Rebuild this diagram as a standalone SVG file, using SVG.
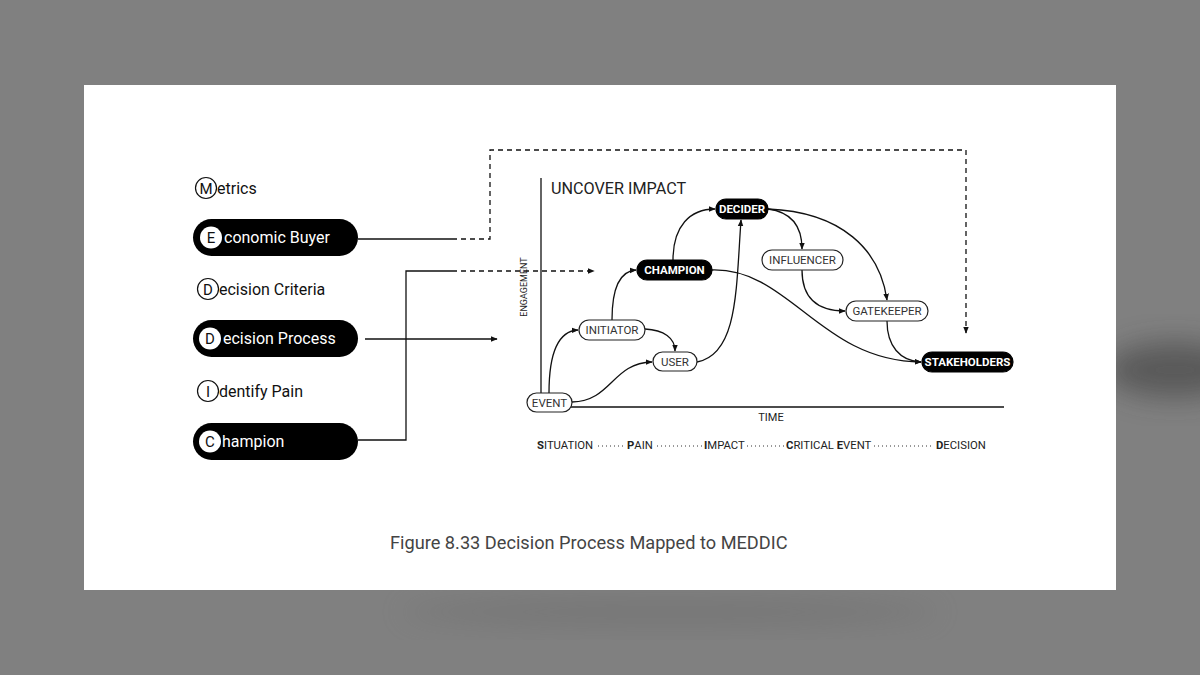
<svg xmlns="http://www.w3.org/2000/svg" width="1200" height="675" viewBox="0 0 1200 675">
<defs>
<marker id="ah" viewBox="0 0 10 10" refX="9" refY="5" markerWidth="7" markerHeight="7" markerUnits="userSpaceOnUse" orient="auto">
<path d="M0,1 L10,5 L0,9 Z" fill="#111"/>
</marker>
<filter id="blur" x="-50%" y="-50%" width="200%" height="200%"><feGaussianBlur stdDeviation="14"/></filter>
<style>
.lbl{font-family:Roboto,"Liberation Sans",sans-serif;font-size:16px;fill:#111}
.wl{font-family:Roboto,"Liberation Sans",sans-serif;font-size:16px;fill:#fff}
.cl{font-family:Roboto,"Liberation Sans",sans-serif;font-size:15px;fill:#111;text-anchor:middle}
.pill{fill:#000}
.ring{fill:#fff;stroke:#111;stroke-width:1.2}
.node{fill:#fff;stroke:#222;stroke-width:1.2}
.bnode{fill:#000;stroke:#000;stroke-width:1.2}
.nt{font-family:Roboto,"Liberation Sans",sans-serif;font-size:11.5px;fill:#333;text-anchor:middle}
.bt{font-family:Roboto,"Liberation Sans",sans-serif;font-size:11.5px;font-weight:bold;fill:#fff;text-anchor:middle}
.edge{fill:none;stroke:#111;stroke-width:1.3}
.dash{fill:none;stroke:#111;stroke-width:1.3;stroke-dasharray:5 4}
.dots{fill:none;stroke:#333;stroke-width:1;stroke-dasharray:1 3}
.tl{font-family:Roboto,"Liberation Sans",sans-serif;font-size:11.3px;fill:#222}
.ax{font-family:Roboto,"Liberation Sans",sans-serif;fill:#222}
</style>
</defs>
<rect x="0" y="0" width="1200" height="675" fill="#808080"/>
<ellipse cx="1175" cy="370" rx="70" ry="28" fill="#3a3a3a" opacity="0.55" filter="url(#blur)"/>
<ellipse cx="670" cy="612" rx="270" ry="14" fill="#5a5a5a" opacity="0.25" filter="url(#blur)"/>
<rect x="84" y="85" width="1032" height="505" fill="#fff"/>

<g id="meddic-metrics">
<circle class="ring" cx="206" cy="188" r="10.5"/>
<text class="cl" x="206" y="193.5">M</text>
<text class="lbl" x="217" y="193.5">etrics</text>
</g>
<g id="meddic-economic-buyer">
<rect class="pill" x="193" y="219" width="165" height="37" rx="18.5"/>
<circle cx="211" cy="237.5" r="11" fill="#fff"/>
<text class="cl" x="211" y="243">E</text>
<text class="wl" x="224" y="243">conomic Buyer</text>
</g>
<g id="meddic-decision-criteria">
<circle class="ring" cx="208" cy="289" r="10.5"/>
<text class="cl" x="208" y="294.5">D</text>
<text class="lbl" x="219" y="294.5">ecision Criteria</text>
</g>
<g id="meddic-decision-process">
<rect class="pill" x="193" y="320" width="165" height="37" rx="18.5"/>
<circle cx="210" cy="338.5" r="11" fill="#fff"/>
<text class="cl" x="210" y="344">D</text>
<text class="wl" x="223" y="344">ecision Process</text>
</g>
<g id="meddic-identify-pain">
<circle class="ring" cx="208" cy="391" r="10.5"/>
<text class="cl" x="208" y="396.5">I</text>
<text class="lbl" x="219" y="396.5">dentify Pain</text>
</g>
<g id="meddic-champion">
<rect class="pill" x="193" y="423" width="165" height="37" rx="18.5"/>
<circle cx="210" cy="441.5" r="11" fill="#fff"/>
<text class="cl" x="210" y="447">C</text>
<text class="wl" x="222" y="447">hampion</text>
</g>

<g id="axes">
<line x1="541" y1="178" x2="541" y2="407" stroke="#111" stroke-width="1.3"/>
<line x1="541" y1="407" x2="1004" y2="407" stroke="#111" stroke-width="1.3"/>
<text class="ax" x="551" y="193.5" font-size="16.2">UNCOVER IMPACT</text>
<text class="ax" x="0" y="0" font-size="9" text-anchor="middle" transform="translate(527,287) rotate(-90)">ENGAGEMENT</text>
<text class="ax" x="771" y="421" font-size="11" text-anchor="middle">TIME</text>
</g>

<g id="connectors">
<path class="edge" d="M358,239 H452"/>
<path class="dash" d="M452,239 H490 V150 H966 V333" marker-end="url(#ah)"/>
<path class="edge" d="M358,440 H406 V271 H452"/>
<path class="dash" d="M452,271 H594" marker-end="url(#ah)"/>
<path class="edge" d="M365,339 H497" marker-end="url(#ah)"/>

<path class="edge" d="M549,393 C549,352 558,331 578,330" marker-end="url(#ah)"/>
<path class="edge" d="M572,402 C612,401 612,363 652,362" marker-end="url(#ah)"/>
<path class="edge" d="M645,329 C664,330 675,338 675,351" marker-end="url(#ah)"/>
<path class="edge" d="M612,320 C612,287 620,271 636,270" marker-end="url(#ah)"/>
<path class="edge" d="M697,362 C738,354 736,290 741,220" marker-end="url(#ah)"/>
<path class="edge" d="M673,260 C673,226 690,209 715,209" marker-end="url(#ah)"/>
<path class="edge" d="M712,270 C790,268 820,361 921,362" marker-end="url(#ah)"/>
<path class="edge" d="M768,209 C791,212 802,226 802,249" marker-end="url(#ah)"/>
<path class="edge" d="M768,209 C842,212 880,250 887,300" marker-end="url(#ah)"/>
<path class="edge" d="M802,270 C802,300 820,311 845,311" marker-end="url(#ah)"/>
<path class="edge" d="M887,321 C887,346 900,361 921,362" marker-end="url(#ah)"/>
</g>

<g id="node-event"><rect class="node" x="527" y="393" width="45" height="19" rx="9.5"/><text class="nt" x="549.5" y="406.5">EVENT</text></g>
<g id="node-initiator"><rect class="node" x="579" y="320" width="66" height="20" rx="10"/><text class="nt" x="612" y="334">INITIATOR</text></g>
<g id="node-user"><rect class="node" x="653" y="352" width="44" height="19" rx="9.5"/><text class="nt" x="675" y="365.5">USER</text></g>
<g id="node-champion"><rect class="bnode" x="637" y="260" width="75" height="20" rx="10"/><text class="bt" x="674.5" y="274">CHAMPION</text></g>
<g id="node-decider"><rect class="bnode" x="716" y="199" width="52" height="20" rx="10"/><text class="bt" x="742" y="213">DECIDER</text></g>
<g id="node-influencer"><rect class="node" x="762" y="250" width="81" height="20" rx="10"/><text class="nt" x="802.5" y="264">INFLUENCER</text></g>
<g id="node-gatekeeper"><rect class="node" x="846" y="301" width="82" height="20" rx="10"/><text class="nt" x="887" y="315">GATEKEEPER</text></g>
<g id="node-stakeholders"><rect class="bnode" x="922" y="352" width="91" height="20" rx="10"/><text class="bt" x="967.5" y="366">STAKEHOLDERS</text></g>

<g id="timeline">
<text class="tl" x="537" y="448.5"><tspan font-weight="bold">S</tspan>ITUATION</text>
<path class="dots" d="M598,446 H624"/>
<text class="tl" x="627" y="448.5"><tspan font-weight="bold">P</tspan>AIN</text>
<path class="dots" d="M657,446 H702"/>
<text class="tl" x="704" y="448.5"><tspan font-weight="bold">I</tspan>MPACT</text>
<path class="dots" d="M747,446 H784"/>
<text class="tl" x="786" y="448.5"><tspan font-weight="bold">C</tspan>RITICAL <tspan font-weight="bold">E</tspan>VENT</text>
<path class="dots" d="M874,446 H934"/>
<text class="tl" x="936" y="448.5"><tspan font-weight="bold">D</tspan>ECISION</text>
</g>

<text x="390" y="549" font-family="Roboto,'Liberation Sans',sans-serif" font-size="18.2" fill="#444">Figure 8.33 Decision Process Mapped to MEDDIC</text>
</svg>
